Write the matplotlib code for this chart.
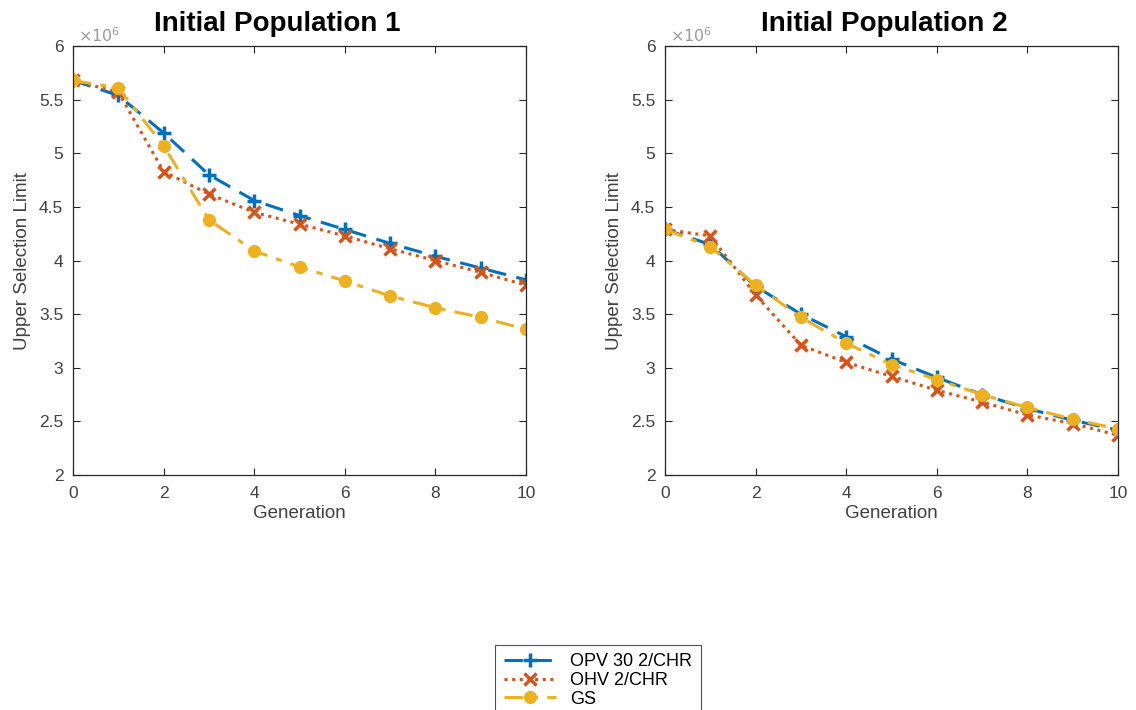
import matplotlib
matplotlib.use("Agg")
import matplotlib.pyplot as plt
from matplotlib.ticker import FuncFormatter

plt.rcParams['font.family'] = ['Liberation Sans', 'DejaVu Sans']

generations = list(range(11))

# Initial Population 1 (values in units of 1e6)
pop1_opv = [5.68, 5.54, 5.19, 4.80, 4.56, 4.42, 4.29, 4.16, 4.04, 3.93, 3.82]
pop1_ohv = [5.68, 5.57, 4.83, 4.62, 4.45, 4.34, 4.23, 4.11, 4.00, 3.89, 3.77]
pop1_gs = [5.68, 5.61, 5.07, 4.38, 4.09, 3.94, 3.81, 3.67, 3.56, 3.47, 3.36]

# Initial Population 2
pop2_opv = [4.29, 4.15, 3.76, 3.50, 3.29, 3.08, 2.91, 2.75, 2.62, 2.51, 2.42]
pop2_ohv = [4.29, 4.23, 3.68, 3.21, 3.05, 2.92, 2.79, 2.68, 2.56, 2.48, 2.37]
pop2_gs = [4.29, 4.13, 3.77, 3.47, 3.23, 3.03, 2.89, 2.75, 2.63, 2.52, 2.43]

titles = ["Initial Population 1", "Initial Population 2"]
labels = ["OPV 30 2/CHR", "OHV 2/CHR", "GS"]
colors = ["#0072BD", "#D95319", "#EDB120"]
y_ticks = [2, 2.5, 3, 3.5, 4, 4.5, 5, 5.5, 6]
x_ticks = [0, 2, 4, 6, 8, 10]
scale = 1e6

fig = plt.figure(figsize=(11.36, 7.1), dpi=100)
ax1 = fig.add_axes([0.0643, 0.331, 0.3988, 0.604])
ax2 = fig.add_axes([0.5854, 0.331, 0.3988, 0.604])

axis_col = "#262626"
tick_col = "#404040"
series = [(pop1_opv, pop1_ohv, pop1_gs), (pop2_opv, pop2_ohv, pop2_gs)]
title_x = [0.45, 0.485]
handles = []
for ax, title, tx, (opv, ohv, gs) in zip([ax1, ax2], titles, title_x, series):
    h1, = ax.plot(generations, [v * scale for v in opv], color=colors[0], linestyle=(0, (6, 3.5)),
                  linewidth=2.2, marker='+', markersize=10, markeredgewidth=2.5)
    h2, = ax.plot(generations, [v * scale for v in ohv], color=colors[1], linestyle=(0, (1, 1.5)),
                  linewidth=2.2, marker='x', markersize=8, markeredgewidth=2.5)
    h3, = ax.plot(generations, [v * scale for v in gs], color=colors[2], linestyle=(0, (6, 3, 2, 3)),
                  linewidth=2.2, marker='o', markersize=8.5)
    handles = [h1, h2, h3]
    ax.set_xlim(0, 10)
    ax.set_ylim(2 * scale, 6 * scale)
    ax.set_xticks(x_ticks)
    ax.set_yticks([t * scale for t in y_ticks])
    ax.yaxis.set_major_formatter(FuncFormatter(lambda v, p: f"{v / scale:g}"))
    ax.text(0.01, 1.003, r"$\times10^{6}$", transform=ax.transAxes, fontsize=11.5,
            color="#9a9a9a", ha='left', va='bottom')
    ax.tick_params(direction='in', top=True, right=True, labelsize=12.5,
                   colors=axis_col, labelcolor=tick_col, length=5, width=0.8, pad=7)
    ax.tick_params(axis='x', pad=8)
    for s in ax.spines.values():
        s.set_color(axis_col)
        s.set_linewidth(0.9)
    ax.set_title(title, fontsize=20, fontweight='bold', x=tx, pad=11)
    ax.set_xlabel("Generation", fontsize=13.5, color=tick_col, labelpad=3)
    ax.set_ylabel("Upper Selection Limit", fontsize=13.5, color=tick_col, labelpad=6)

leg = fig.legend(handles, labels, loc='upper center', bbox_to_anchor=(598 / 1136, 1 - 636 / 710),
                 fontsize=13, frameon=True, fancybox=False, edgecolor=axis_col,
                 handlelength=2.9, borderpad=0.45, labelspacing=0.1, handletextpad=0.8)
leg.get_frame().set_linewidth(0.8)

fig.savefig("out.png", dpi=100)
